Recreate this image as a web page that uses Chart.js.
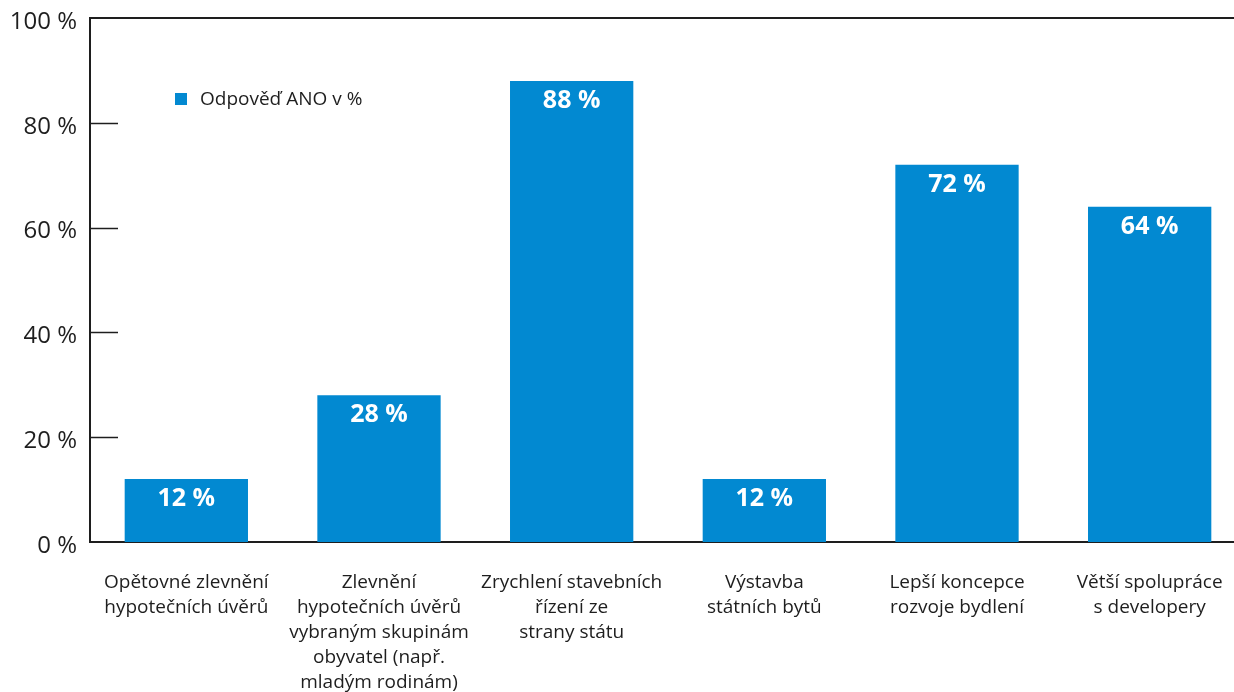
<!DOCTYPE html>
<html lang="cs">
<head>
<meta charset="utf-8">
<title>Odpověď ANO v %</title>
<script src="https://cdn.jsdelivr.net/npm/chart.js@4.4.1/dist/chart.umd.min.js"></script>
<style>
  html, body { margin: 0; padding: 0; background: #fff; overflow: hidden; }
  #wrap { width: 1246px; height: 692px; }
</style>
</head>
<body>
<div id="wrap"><canvas id="chart" width="1246" height="692"></canvas></div>
<script>
// Survey answers – share of "ANO" per proposed measure
const categories = [
    ['Opětovné zlevnění', 'hypotečních úvěrů'],
    ['Zlevnění', 'hypotečních úvěrů', 'vybraným skupinám', 'obyvatel (např.', 'mladým rodinám)'],
    ['Zrychlení stavebních', 'řízení ze', 'strany státu'],
    ['Výstavba', 'státních bytů'],
    ['Lepší koncepce', 'rozvoje bydlení'],
    ['Větší spolupráce', 's developery']
];
const yesValues = [12, 28, 88, 12, 72, 64];
const yTicks = [0, 20, 40, 60, 80, 100];
const seriesLabel = 'Odpověď ANO v %';

const FONT = "'Open Sans', 'Noto Sans', sans-serif";
const BLUE = '#0289d1';
const INK = '#1e1e1e';

// top frame line, inner tick marks, legend and value labels
const decorations = {
    id: 'decorations',
    afterDatasetsDraw(chart) {
        const { ctx, chartArea, scales } = chart;
        ctx.save();

        // top border
        ctx.strokeStyle = INK;
        ctx.lineWidth = 2;
        ctx.beginPath();
        ctx.moveTo(chartArea.left - 1, chartArea.top);
        ctx.lineTo(chartArea.right, chartArea.top);
        ctx.stroke();

        // short ticks pointing into the plot
        ctx.lineWidth = 1.5;
        yTicks.filter(v => v > 0 && v < 100).forEach(v => {
            const y = Math.round(scales.y.getPixelForValue(v)) + 0.5;
            ctx.beginPath();
            ctx.moveTo(chartArea.left, y);
            ctx.lineTo(chartArea.left + 28, y);
            ctx.stroke();
        });

        // value labels inside the bars
        const meta = chart.getDatasetMeta(0);
        ctx.fillStyle = '#ffffff';
        ctx.font = `bold 25px ${FONT}`;
        ctx.textAlign = 'center';
        ctx.textBaseline = 'middle';
        meta.data.forEach((bar, i) => {
            ctx.fillText(yesValues[i] + ' %', bar.x, bar.y + 20);
        });

        // legend
        const ds = chart.data.datasets[0];
        ctx.fillStyle = ds.backgroundColor;
        ctx.fillRect(chartArea.left + 85, 93, 12, 12);
        ctx.fillStyle = INK;
        ctx.font = `19px ${FONT}`;
        ctx.textAlign = 'left';
        ctx.fillText(ds.label, chartArea.left + 110, 100);

        ctx.restore();
    }
};

new Chart(document.getElementById('chart'), {
    type: 'bar',
    data: {
        labels: categories,
        datasets: [{
            label: seriesLabel,
            data: yesValues,
            backgroundColor: BLUE,
            borderWidth: 0,
            barPercentage: 0.64,
            categoryPercentage: 1
        }]
    },
    options: {
        responsive: false,
        animation: false,
        layout: { padding: { top: 18, right: 0, left: 0, bottom: 0 } },
        plugins: {
            legend: { display: false },
            tooltip: { enabled: false }
        },
        scales: {
            y: {
                min: 0,
                max: 100,
                afterFit: s => { s.width = 90; s.paddingTop = 0; s.paddingBottom = 0; },
                ticks: {
                    stepSize: 20,
                    padding: 5,
                    labelOffset: 4,
                    color: INK,
                    font: { family: FONT, size: 24 },
                    callback: v => v + ' %'
                },
                grid: { display: false },
                border: { display: true, color: INK, width: 2 }
            },
            x: {
                afterFit: s => { s.height = 150; s.paddingLeft = 0; s.paddingRight = 0; },
                ticks: {
                    padding: 20,
                    color: INK,
                    maxRotation: 0,
                    autoSkip: false,
                    font: { family: FONT, size: 19, lineHeight: 1.32 }
                },
                grid: { display: false },
                border: { display: true, color: INK, width: 2 }
            }
        }
    },
    plugins: [decorations]
});
</script>
</body>
</html>
